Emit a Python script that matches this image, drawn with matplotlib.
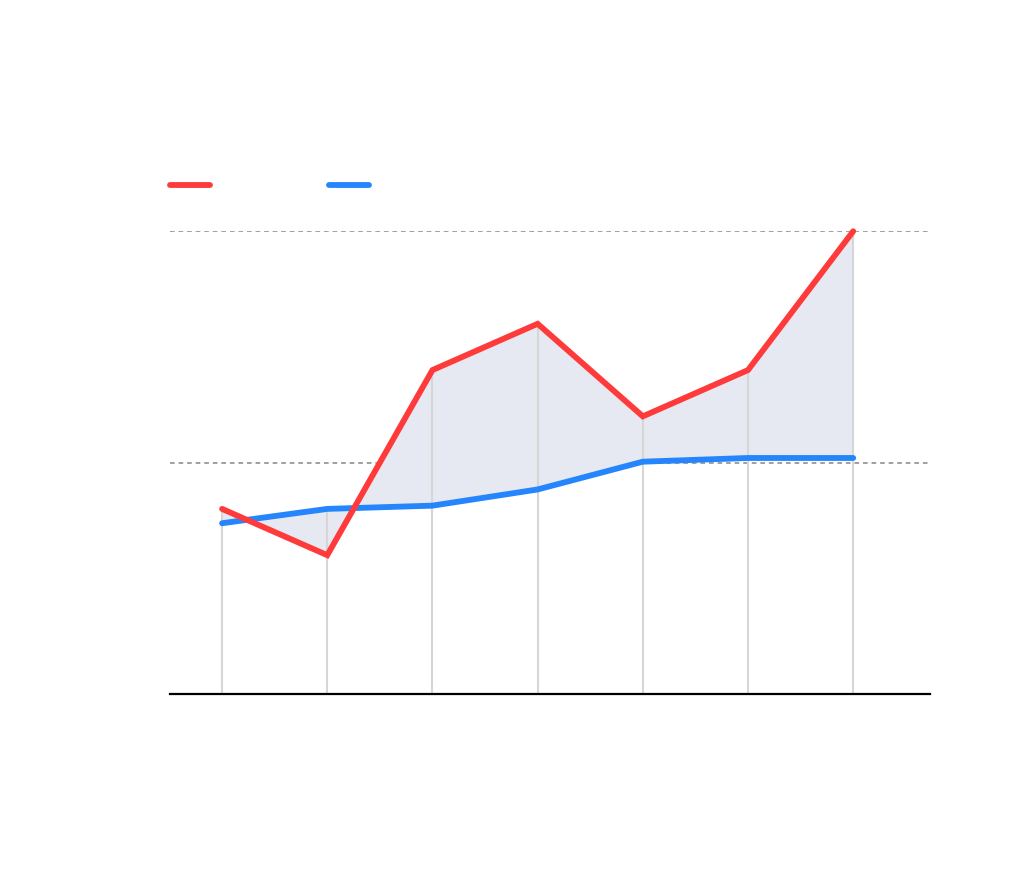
import matplotlib
matplotlib.use("Agg")
import matplotlib.pyplot as plt
from matplotlib.lines import Line2D
import numpy as np

# Data (no visible text in the reference)
categories = [0, 1, 2, 3, 4, 5, 6]
red_values = [4.0, 3.0, 7.0, 8.0, 6.0, 7.0, 10.0]
blue_values = [3.69, 4.0, 4.07, 4.42, 5.02, 5.1, 5.1]
y_ticks = [0, 5, 10]

RED = "#ff3a3a"
BLUE = "#2585fc"
FILL = "#e6e9f1"

fig = plt.figure(figsize=(10.2, 8.8), dpi=100)
ax = fig.add_axes([170 / 1020, 1 - 694 / 880, 760 / 1020, (694 - 231) / 880])

x = np.array(categories, dtype=float)
r = np.array(red_values)
b = np.array(blue_values)

ax.fill_between(x, r, b, color=FILL, linewidth=0, zorder=1)
ax.vlines(x, 0, np.maximum(r, b), color="#d6d6d6", linewidth=1.5, zorder=2)
ax.plot(x, b, color=BLUE, linewidth=4.2, solid_capstyle="round",
        solid_joinstyle="miter", zorder=4, clip_on=False)
ax.plot(x, r, color=RED, linewidth=4.2, solid_capstyle="round",
        solid_joinstyle="miter", zorder=5, clip_on=False)

ax.set_xlim(-0.495, 6.73)
ax.set_ylim(0, 10.005)
ax.set_yticks(y_ticks)
ax.set_xticks([])
ax.tick_params(left=False, labelleft=False, bottom=False, labelbottom=False)
ax.yaxis.grid(True, color="#a0a0a0", linestyle=(0, (2.4, 2.0)), linewidth=1.4)
ax.set_axisbelow(True)
for s in ["top", "right", "left"]:
    ax.spines[s].set_visible(False)
ax.spines["bottom"].set_linewidth(1.6)
ax.spines["bottom"].set_color("black")
ax.spines["bottom"].set_zorder(6)

handles = [Line2D([], [], color=RED, linewidth=4.2, solid_capstyle="round"),
           Line2D([], [], color=BLUE, linewidth=4.2, solid_capstyle="round")]
ax.legend(handles, ["", ""], ncol=2, frameon=False, loc="center left",
          bbox_to_anchor=(0.0, 1.097), borderaxespad=0, borderpad=0,
          handlelength=2.6, handletextpad=0.0, columnspacing=7.8,
          fontsize=11)

fig.savefig("out.png", dpi=100, facecolor="white")
